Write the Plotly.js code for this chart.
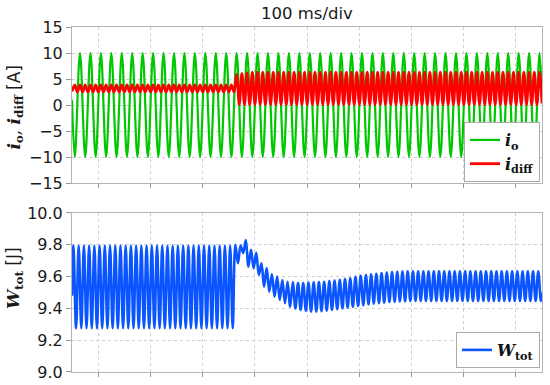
<!DOCTYPE html>
<html><head><meta charset="utf-8">
<script src="https://cdn.plot.ly/plotly-3.0.1.min.js"></script>
<style>html,body{margin:0;padding:0;background:#fff;}#chart{width:550px;height:385px;}</style>
</head><body><div id="chart"></div>
<script>
// ---- axes ----
const xRange = [0, 0.9];                 // seconds, 100 ms/div
const xGridTicks = [0.05, 0.15, 0.25, 0.35, 0.45, 0.55, 0.65, 0.75, 0.85];
const yTicksTop = [-15, -10, -5, 0, 5, 10, 15];
const yTicksBottom = [9.0, 9.2, 9.4, 9.6, 9.8, 10.0];
const yTickTextBottom = ["9.0", "9.2", "9.4", "9.6", "9.8", "10.0"];

// ---- i_o (A): 50 Hz, extrema ----
const ioTiming = {first: 0.0053, step: 0.01};      // first trough, half period
const ioEdges = [1.0, 1.0];                         // values at t = 0 and t = 0.9 s
const ioTroughs = [-10,-10,-10,-10,-10,-10,-10,-10,-10,-10,-10,-10,-10,-10,-10,-10,-10,-10,-10,-10,-10,-10,-10,-10,-10,-10,-10,-10,-10,-10,-10,-10,-10,-10,-10,-10,-10,-10,-10,-10,-10,-10,-10,-10,-10];
const ioPeaks   = [10,10,10,10,10,10,10,10,10,10,10,10,10,10,10,10,10,10,10,10,10,10,10,10,10,10,10,10,10,10,10,10,10,10,10,10,10,10,10,10,10,10,10,10,10];

// ---- i_diff (A): 100 Hz ripple, step at ~0.31 s ----
const diffTiming = {first: 0.0053, step: 0.005};    // first peak, half period
const diffEdges = [2.6, 0.3];
const diffPeaks = [3.85,3.85,3.85,3.85,3.85,3.85,3.85,3.85,3.85,3.85,3.85,3.85,3.85,3.85,3.85,3.85,3.85,3.85,3.85,3.85,3.85,3.85,3.85,3.85,3.85,3.85,3.85,3.85,3.85,3.85,3.85,
  5.9,6.1,6.2,6.3,6.3,6.3,6.3,6.3,6.3,6.3,6.3,6.3,6.3,6.3,6.3,6.3,6.3,6.3,6.3,6.3,6.3,6.3,6.3,6.3,6.3,6.3,6.3,6.3,6.3,6.3,6.3,6.3,6.3,6.3,6.3,6.3,6.3,6.3,6.3,6.3,6.3,6.3,6.3,6.3,6.3,6.3,6.3,6.3,6.3,6.3,6.3,6.3,6.3,6.3,6.3,6.3,6.3,6.3,6.3];
const diffTroughs = [2.5,2.5,2.5,2.5,2.5,2.5,2.5,2.5,2.5,2.5,2.5,2.5,2.5,2.5,2.5,2.5,2.5,2.5,2.5,2.5,2.5,2.5,2.5,2.5,2.5,2.5,2.5,2.5,2.5,2.5,2.5,
  0.1,0.1,0.1,0.1,0.1,0.1,0.1,0.1,0.1,0.1,0.1,0.1,0.1,0.1,0.1,0.1,0.1,0.1,0.1,0.1,0.1,0.1,0.1,0.1,0.1,0.1,0.1,0.1,0.1,0.1,0.1,0.1,0.1,0.1,0.1,0.1,0.1,0.1,0.1,0.1,0.1,0.1,0.1,0.1,0.1,0.1,0.1,0.1,0.1,0.1,0.1,0.1,0.1,0.1,0.1,0.1,0.1,0.1];

// ---- W_tot (J): 100 Hz ----
const wTiming = {first: 0.0028, step: 0.005};       // first peak, half period
const wEdges = [9.48, 9.50];
const wPeaks = [9.795,9.795,9.795,9.795,9.795,9.795,9.795,9.795,9.795,9.795,9.795,9.795,9.795,9.795,9.795,9.795,9.795,9.795,9.795,9.795,9.795,9.795,9.795,9.795,9.795,9.795,9.795,9.795,9.795,9.795,9.795,
  9.80,9.795,9.83,9.768,9.75,9.684,9.653,9.615,9.60,9.579,9.568,9.564,9.56,9.56,9.562,9.564,9.566,9.568,9.572,9.575,9.58,9.585,9.59,9.598,9.605,9.61,9.615,9.618,9.622,9.625,9.628,9.63,9.632,
  9.633,9.633,9.633,9.633,9.633,9.633,9.633,9.633,9.633,9.633,9.633,9.633,9.633,9.633,9.633,9.633,9.633,9.633,9.633,9.633,9.633,9.633,9.633,9.633,9.633,9.633];
const wTroughs = [9.275,9.275,9.275,9.275,9.275,9.275,9.275,9.275,9.275,9.275,9.275,9.275,9.275,9.275,9.275,9.275,9.275,9.275,9.275,9.275,9.275,9.275,9.275,9.275,9.275,9.275,9.275,9.275,9.275,9.275,9.275,
  9.684,9.748,9.663,9.653,9.61,9.537,9.505,9.474,9.453,9.432,9.41,9.40,9.39,9.385,9.38,9.38,9.382,9.386,9.39,9.395,9.40,9.405,9.41,9.415,9.42,9.425,9.43,9.433,9.436,9.44,9.442,9.444,9.445,
  9.447,9.447,9.447,9.447,9.447,9.447,9.447,9.447,9.447,9.447,9.447,9.447,9.447,9.447,9.447,9.447,9.447,9.447,9.447,9.447,9.447,9.447,9.447,9.447,9.447,9.447];

// build a waveform from alternating extrema (first list starts)
function wave(timing, edges, firstList, secondList) {
  const t = [xRange[0]], y = [edges[0]];
  let j = 0;
  for (let k = 0; k < firstList.length; k++) {
    t.push(timing.first + timing.step * j++); y.push(firstList[k]);
    if (k < secondList.length) { t.push(timing.first + timing.step * j++); y.push(secondList[k]); }
  }
  t.push(xRange[1]); y.push(edges[1]);
  return {t, y};
}
const io = wave(ioTiming, ioEdges, ioTroughs, ioPeaks);
const idiff = wave(diffTiming, diffEdges, diffPeaks, diffTroughs);
const wtot = wave(wTiming, wEdges, wPeaks, wTroughs);

const serif = "font-family:'DejaVu Serif'";
const traces = [
  {x: io.t, y: io.y, xaxis: 'x', yaxis: 'y', type: 'scatter', mode: 'lines',
   line: {color: '#00c800', width: 2.2, shape: 'spline', smoothing: 1},
   name: '<b><i>i</i><sub>o</sub></b>', legend: 'legend'},
  {x: idiff.t, y: idiff.y, xaxis: 'x', yaxis: 'y', type: 'scatter', mode: 'lines',
   line: {color: '#ff0000', width: 2.8, shape: 'spline', smoothing: 1},
   name: '<b><i>i</i><sub>diff</sub></b>', legend: 'legend'},
  {x: wtot.t, y: wtot.y, xaxis: 'x2', yaxis: 'y2', type: 'scatter', mode: 'lines',
   line: {color: '#0a55ff', width: 2.6, shape: 'spline', smoothing: 1},
   name: '<b><i>W</i><sub>tot</sub></b>', legend: 'legend2'}
];

const tickFont = {family: 'DejaVu Sans', size: 16, color: '#1a1a1a'};
const xCommon = {range: xRange, tickmode: 'array', tickvals: xGridTicks, showticklabels: false,
  ticks: 'outside', ticklen: 4, tickcolor: '#999', showgrid: true, gridcolor: '#cfcfcf', griddash: 'dot',
  gridwidth: 1, showline: true, mirror: true, linecolor: '#b5b5b5', linewidth: 1, zeroline: false};
const yCommon = {ticks: 'outside', ticklen: 5, tickcolor: '#999', tickfont: tickFont,
  showgrid: true, gridcolor: '#cfcfcf', griddash: 'dot', gridwidth: 1,
  showline: true, mirror: true, linecolor: '#b5b5b5', linewidth: 1, zeroline: false};

const legendCommon = {xref: 'paper', yref: 'paper', xanchor: 'right', yanchor: 'bottom',
  bgcolor: '#ffffff', bordercolor: '#aaaaaa', borderwidth: 1,
  font: {family: 'DejaVu Serif', size: 16, color: '#111'}, itemwidth: 30, tracegroupgap: 0};

const layout = {
  width: 550, height: 385,
  margin: {l: 72, r: 8, t: 27, b: 13, pad: 0},
  paper_bgcolor: '#fff', plot_bgcolor: '#fff',
  showlegend: true,
  title: {text: '100 ms/div', x: 0.558, xanchor: 'center', y: 0.966, yanchor: 'middle',
    font: {family: 'DejaVu Sans', size: 16.5, color: '#1a1a1a'}},
  xaxis: Object.assign({}, xCommon, {domain: [0, 1], anchor: 'y'}),
  yaxis: Object.assign({}, yCommon, {domain: [0.5478, 1], range: [-15, 15], tickmode: 'array', tickvals: yTicksTop, anchor: 'x'}),
  xaxis2: Object.assign({}, xCommon, {domain: [0, 1], anchor: 'y2'}),
  yaxis2: Object.assign({}, yCommon, {domain: [0, 0.4609], range: [9, 10], tickmode: 'array', tickvals: yTicksBottom, ticktext: yTickTextBottom, anchor: 'x2'}),
  legend: Object.assign({}, legendCommon, {x: 0.9957, y: 0.5507}),
  legend2: Object.assign({}, legendCommon, {x: 0.9957, y: 0.0116}),
  annotations: [
    {text: '<span style="' + serif + '"><b><i>i</i><sub>o</sub></b>, <b><i>i</i><sub>diff</sub></b></span> [A]',
     xref: 'paper', yref: 'paper', x: -0.121, y: 0.7667, xanchor: 'center', yanchor: 'middle',
     textangle: -90, showarrow: false, font: {family: 'DejaVu Sans', size: 17, color: '#1a1a1a'}},
    {text: '<span style="' + serif + '"><b><i>W</i><sub>tot</sub></b></span> [J]',
     xref: 'paper', yref: 'paper', x: -0.121, y: 0.2725, xanchor: 'center', yanchor: 'middle',
     textangle: -90, showarrow: false, font: {family: 'DejaVu Sans', size: 17, color: '#1a1a1a'}}
  ]
};

Plotly.newPlot('chart', traces, layout, {displayModeBar: false, responsive: false, staticPlot: true});
</script></body></html>
